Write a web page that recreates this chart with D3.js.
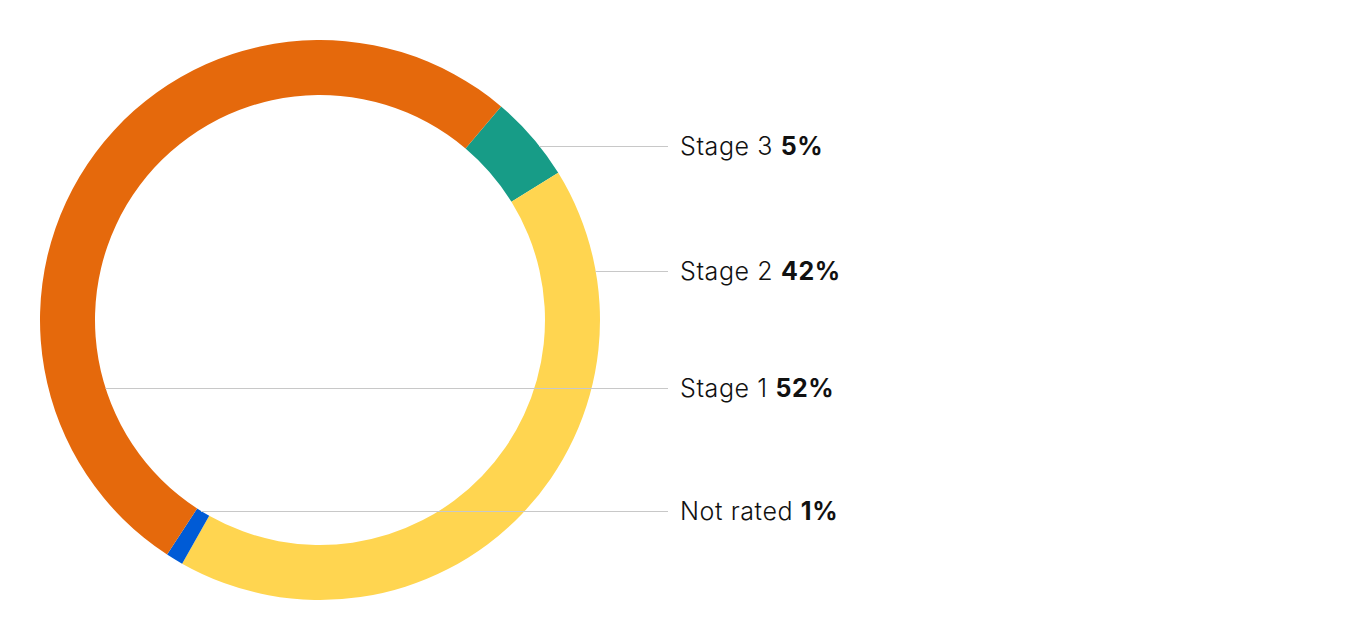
<!DOCTYPE html>
<html>
<head>
<meta charset="utf-8">
<script src="https://cdn.jsdelivr.net/npm/d3@7"></script>
<style>
  html, body { margin: 0; padding: 0; background: #fff; }
  svg { display: block; }
  text { font-family: Inter, "Noto Sans", sans-serif; }
</style>
</head>
<body>
<svg id="chart" width="1360" height="640"></svg>
<script>
// ---- data (clockwise order of the ring) ----
const categories = ["Stage 3", "Stage 2", "Not rated", "Stage 1"];
const values = [5, 42, 1, 52];
const valueLabels = ["5%", "42%", "1%", "52%"];
const colors = ["#179C87", "#FFD550", "#005BD6", "#E5690C"];

// ---- layout ----
const W = 1360, H = 640;
const cx = 320, cy = 320, R = 280, r = 225;
const startDeg = 40.3;
const labelX = 680, lineEndX = 668;
const labelYs = {"Stage 3": 146, "Stage 2": 271, "Stage 1": 388, "Not rated": 511};

const svg = d3.select("#chart");
const g = svg.append("g").attr("transform", `translate(${cx},${cy})`);

const rows = categories.map((c, i) => ({cat: c, value: values[i], label: valueLabels[i], color: colors[i]}));

const pie = d3.pie().sort(null).value(d => d.value)
  .startAngle(startDeg * Math.PI / 180)
  .endAngle(startDeg * Math.PI / 180 + 2 * Math.PI);
const arcs = pie(rows);
const arc = d3.arc().innerRadius(r).outerRadius(R);

g.selectAll("path.slice").data(arcs).enter().append("path")
  .attr("class", "slice")
  .attr("d", arc)
  .attr("fill", d => d.data.color);

function inSlice(a, x, y) {
  const rr = Math.hypot(x, y);
  if (rr < r || rr > R) return false;
  let ang = Math.atan2(x, -y);
  while (ang < a.startAngle) ang += 2 * Math.PI;
  return ang <= a.endAngle;
}
function startX(a, yAbs) {
  const y = yAbs - cy;
  for (let x = R; x >= -R; x -= 0.25) {
    if (inSlice(a, x, y)) return cx + x;
  }
  return cx;
}

const labG = svg.append("g");
arcs.forEach(a => {
  const y = labelYs[a.data.cat];
  labG.append("line")
    .attr("x1", startX(a, y)).attr("x2", lineEndX)
    .attr("y1", y + 0.5).attr("y2", y + 0.5)
    .attr("stroke", "#c8c8c8").attr("stroke-width", 1);
  const t = labG.append("text")
    .attr("x", labelX).attr("y", y)
    .attr("dy", "0.36em")
    .attr("font-size", 25)
    .attr("letter-spacing", 0.6)
    .attr("fill", "#111");
  t.append("tspan").attr("font-weight", 300).text(a.data.cat + " ");
  t.append("tspan").attr("font-weight", 700).text(a.data.label);
});
</script>
</body>
</html>
